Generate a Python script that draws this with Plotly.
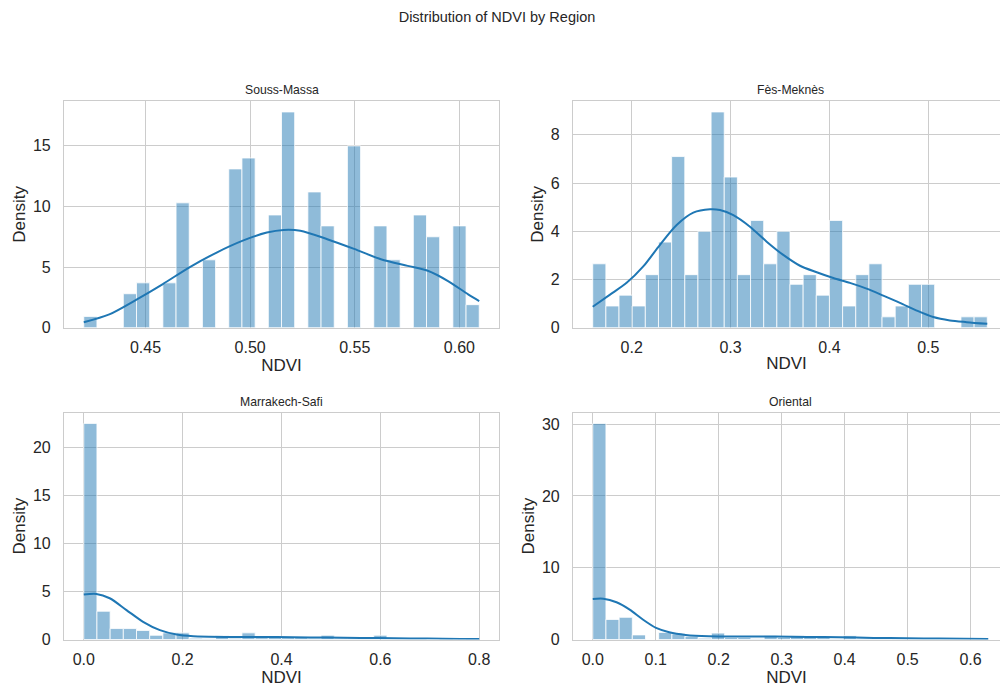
import numpy as np
import plotly.graph_objects as go

# ---------------- data ----------------
regions = ["Souss-Massa", "Fès-Meknès", "Marrakech-Safi", "Oriental"]

# histogram bin range (min, max of NDVI) per region, 30 bins each
sm_range = (0.4205, 0.6095)
fm_range = (0.1606, 0.5596)
ms_range = (0.0, 0.800)
or_range = (0.0, 0.628)

# bin densities (30 bins)
sm_density = [0.93, 0, 0, 2.8, 3.7, 0, 3.7, 10.3, 0, 5.6, 0, 13.1, 14.0, 0, 9.3,
              17.8, 0, 11.2, 8.4, 0, 15.0, 0, 8.4, 5.6, 0, 9.3, 7.5, 0, 8.4, 1.9]
fm_density = [2.65, 0.9, 1.35, 0.9, 2.2, 3.55, 7.1, 2.2, 4.0, 8.95, 6.25, 2.2, 4.45, 2.65, 4.0,
              1.8, 2.2, 1.35, 4.45, 0.9, 2.2, 2.65, 0.45, 0.9, 1.8, 1.8, 0, 0, 0.45, 0.45]
ms_density = [22.5, 2.95, 1.15, 1.15, 0.95, 0.45, 0.7, 0.7, 0.15, 0.1, 0.4, 0.15, 0.7, 0.2, 0.35,
              0.2, 0.2, 0.15, 0.45, 0.15, 0.15, 0.15, 0.45, 0.07, 0.07, 0.07, 0, 0.07, 0, 0.07]
or_density = [30.1, 2.8, 3.1, 0.65, 0, 1.0, 0.8, 0.45, 0.2, 0.9, 0.3, 0.3, 0.1, 0.55, 0.3,
              0.55, 0.3, 0.3, 0.1, 0.55, 0.2, 0.2, 0.2, 0.15, 0.15, 0.15, 0.2, 0.1, 0.1, 0.1]

# KDE curves (read points)
sm_kde_x = [0.4205, 0.4327, 0.4455, 0.4583, 0.4712, 0.4840, 0.4968, 0.5080, 0.5160, 0.5240,
            0.5369, 0.5497, 0.5625, 0.5753, 0.5849, 0.5946, 0.6042, 0.6095]
sm_kde_y = [0.45, 1.1, 2.3, 3.6, 5.0, 6.2, 7.2, 7.85, 8.07, 8.0, 7.3, 6.5, 5.65, 5.1, 4.7, 3.85, 2.75, 2.2]

fm_kde_x = [0.1606, 0.1781, 0.1949, 0.2117, 0.2286, 0.2455, 0.2623, 0.2792, 0.2893, 0.3028,
            0.3196, 0.3365, 0.3533, 0.3702, 0.3871, 0.4039, 0.4207, 0.4376, 0.4544, 0.4713,
            0.4882, 0.5050, 0.5218, 0.5387, 0.5596]
fm_kde_y = [0.87, 1.37, 1.86, 2.54, 3.44, 4.26, 4.77, 4.91, 4.88, 4.67, 4.19, 3.57, 3.02, 2.57,
            2.30, 2.06, 1.86, 1.62, 1.33, 1.03, 0.71, 0.44, 0.30, 0.23, 0.16]

ms_kde_x = [0.0, 0.0255, 0.0525, 0.0864, 0.120, 0.154, 0.188, 0.2215, 0.289, 0.357, 0.424,
            0.492, 0.560, 0.627, 0.695, 0.762, 0.800]
ms_kde_y = [4.68, 4.75, 4.3, 3.07, 1.85, 0.98, 0.52, 0.35, 0.28, 0.28, 0.24, 0.21, 0.17, 0.14,
            0.10, 0.07, 0.06]

or_kde_x = [0.0, 0.0167, 0.0377, 0.0586, 0.0795, 0.1005, 0.1214, 0.1476, 0.184, 0.2365, 0.289,
            0.341, 0.393, 0.446, 0.498, 0.550, 0.628]
or_kde_y = [5.66, 5.7, 5.2, 4.18, 2.79, 1.62, 1.02, 0.65, 0.46, 0.42, 0.42, 0.37, 0.33, 0.23,
            0.19, 0.14, 0.09]

x_dticks = [0.05, 0.1, 0.2, 0.1]
x_formats = [".2f", ".1f", ".1f", ".1f"]
y_dticks = [5, 2, 5, 10]

# ---------------- layout ----------------
W, H = 1000, 693
# panel boxes in pixels: left, right (full axes width, may exceed canvas), top, bottom
boxes = [(64, 499, 102.5, 332), (573, 1007, 102.5, 332),
         (64, 499, 418, 648), (573, 1008, 418, 648)]
title_y_px = [91, 91, 407, 407]

BAR = "rgba(31,119,180,0.5)"
LINE = "#1f77b4"
GRID = "#cccccc"
TXT = "#262626"
FONT = "Liberation Sans, Arial, DejaVu Sans, sans-serif"

ranges = [sm_range, fm_range, ms_range, or_range]
dens = [sm_density, fm_density, ms_density, or_density]
kx = [sm_kde_x, fm_kde_x, ms_kde_x, or_kde_x]
ky = [sm_kde_y, fm_kde_y, ms_kde_y, or_kde_y]

fig = go.Figure()
layout_updates = {}
annotations = []

for i in range(4):
    sfx = "" if i == 0 else str(i + 1)
    dmin, dmax = ranges[i]
    nb = len(dens[i])
    edges = np.linspace(dmin, dmax, nb + 1)
    centers = (edges[:-1] + edges[1:]) / 2
    bw = edges[1] - edges[0]
    yvals = [v if v > 0 else None for v in dens[i]]

    fig.add_trace(go.Bar(x=centers, y=yvals, width=bw,
                         marker=dict(color=BAR, line=dict(color="white", width=0.8)),
                         xaxis="x" + sfx, yaxis="y" + sfx, showlegend=False,
                         hoverinfo="x+y"))
    fig.add_trace(go.Scatter(x=kx[i], y=ky[i], mode="lines",
                             line=dict(color=LINE, width=2, shape="spline", smoothing=0.8),
                             xaxis="x" + sfx, yaxis="y" + sfx, showlegend=False))

    left, right, top, bottom = boxes[i]
    span = dmax - dmin
    lo, hi = dmin - 0.05 * span, dmax + 0.05 * span
    vis_right = min(right, W)
    hi_vis = lo + (hi - lo) * (vis_right - left) / (right - left)
    ymax = 1.05 * max(dens[i])
    is_left = i in (0, 2)

    layout_updates["xaxis" + sfx] = dict(
        domain=[left / W, vis_right / W], range=[lo, hi_vis], anchor="y" + sfx,
        dtick=x_dticks[i], tick0=0, tickformat=x_formats[i],
        showgrid=True, gridcolor=GRID, gridwidth=1.2, zeroline=False,
        showline=True, linecolor=GRID, linewidth=1.2, mirror=True,
        ticks="outside", ticklen=5, tickcolor="rgba(0,0,0,0)",
        tickfont=dict(size=16, color=TXT, family=FONT),
        title=dict(text="NDVI", font=dict(size=17, color=TXT, family=FONT), standoff=2),
    )
    layout_updates["yaxis" + sfx] = dict(
        domain=[1 - bottom / H, 1 - top / H], range=[0, ymax], anchor="x" + sfx,
        dtick=y_dticks[i], tick0=0,
        showgrid=True, gridcolor=GRID, gridwidth=1.2, zeroline=False,
        showline=True, linecolor=GRID, linewidth=1.2, mirror=is_left,
        ticks="outside", ticklen=9, tickcolor="rgba(0,0,0,0)",
        tickfont=dict(size=16, color=TXT, family=FONT),
        title=dict(text="Density", font=dict(size=17, color=TXT, family=FONT), standoff=2),
    )
    annotations.append(dict(text=regions[i], x=(left + right) / 2 / W, y=1 - title_y_px[i] / H,
                            xref="paper", yref="paper", showarrow=False,
                            xanchor="center", yanchor="middle",
                            font=dict(size=12.2, color=TXT, family=FONT)))

fig.update_layout(**layout_updates)
fig.update_layout(
    width=W, height=H, margin=dict(l=0, r=0, t=0, b=0),
    plot_bgcolor="white", paper_bgcolor="white",
    title=dict(text="Distribution of NDVI by Region", x=0.497, y=1 - 17 / H,
               xanchor="center", yanchor="middle",
               font=dict(size=14.5, color=TXT, family=FONT)),
    annotations=annotations,
    showlegend=False,
    font=dict(family=FONT, color=TXT),
)

fig.write_html("out.html")
